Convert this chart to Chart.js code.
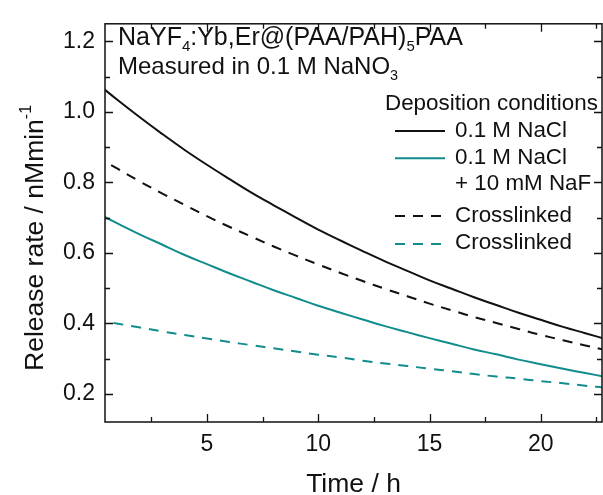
<!DOCTYPE html>
<html>
<head>
<meta charset="utf-8">
<script src="https://cdn.jsdelivr.net/npm/chart.js@4/dist/chart.umd.min.js"></script>
<style>
  html, body { margin: 0; padding: 0; background: #fff; }
  #wrap { width: 603px; height: 495px; }
</style>
</head>
<body>
<div id="wrap"><canvas id="myChart" width="603" height="495"></canvas></div>
<script>
  // time in hours
  const hours = [0, 1, 2, 3, 4, 5, 6, 7, 8, 9, 10, 11, 12, 13, 14, 15, 16, 17, 18, 19, 20, 21, 22, 23];
  // release rates (nM/min)
  const naclRate = [1.084, 1.033, 0.984, 0.937, 0.892, 0.850, 0.810, 0.771, 0.735, 0.700, 0.666, 0.635,
    0.605, 0.576, 0.549, 0.522, 0.498, 0.474, 0.452, 0.430, 0.410, 0.390, 0.372, 0.354];
  const nafRate = [0.715, 0.683, 0.652, 0.623, 0.594, 0.568, 0.542, 0.518, 0.494, 0.472, 0.450, 0.430,
    0.411, 0.392, 0.375, 0.358, 0.342, 0.326, 0.312, 0.297, 0.284, 0.271, 0.259, 0.247];
  const naclCrossRate = [0.875, 0.838, 0.802, 0.768, 0.736, 0.704, 0.674, 0.646, 0.618, 0.592, 0.567, 0.543,
    0.520, 0.498, 0.477, 0.456, 0.437, 0.418, 0.401, 0.384, 0.367, 0.352, 0.337, 0.323];
  const nafCrossRate = [0.410, 0.399, 0.388, 0.377, 0.367, 0.357, 0.347, 0.338, 0.329, 0.320, 0.311, 0.303,
    0.294, 0.286, 0.279, 0.271, 0.264, 0.256, 0.249, 0.243, 0.236, 0.230, 0.223, 0.217];

  const xTicks = [5, 10, 15, 20];
  const xMinor = [2.5, 7.5, 12.5, 17.5, 22.5];
  const yTicks = [0.2, 0.4, 0.6, 0.8, 1.0, 1.2];
  const yMinor = [0.3, 0.5, 0.7, 0.9, 1.1];
  const legendTitle = 'Deposition conditions';
  const seriesLabels = [['0.1 M NaCl'], ['0.1 M NaCl', '+ 10 mM NaF'], ['Crosslinked'], ['Crosslinked']];

  const black = '#111111';
  const teal = '#128c8c';
  const FONT = '"Liberation Sans", Arial, sans-serif';

  function pts(ys) {
    return hours.map((h, i) => ({ x: h, y: ys[i] }));
  }

  const chartData = {
    datasets: [
      { data: pts(naclRate), borderColor: black, borderWidth: 2, pointRadius: 0, tension: 0.4 },
      { data: pts(nafRate), borderColor: teal, borderWidth: 2, pointRadius: 0, tension: 0.4 },
      { data: pts(naclCrossRate), borderColor: black, borderWidth: 2, borderDash: [10, 8], pointRadius: 0, tension: 0.4 },
      { data: pts(nafCrossRate), borderColor: teal, borderWidth: 2, borderDash: [10, 8], pointRadius: 0, tension: 0.4 }
    ]
  };

  // text with sub/superscripts: parts = [[text, shift]] shift: 0 normal, 1 sub, -1 sup
  function richText(ctx, parts, x, y, size) {
    let cx = x;
    parts.forEach(p => {
      const small = p[1] !== 0;
      ctx.font = (small ? size * 0.6 : size) + 'px ' + FONT;
      const dy = p[1] === 1 ? size * 0.25 : (p[1] === -1 ? -size * 0.45 : 0);
      ctx.fillText(p[0], cx, y + dy);
      cx += ctx.measureText(p[0]).width;
    });
    return cx - x;
  }
  function richWidth(ctx, parts, size) {
    let w = 0;
    parts.forEach(p => {
      ctx.font = (p[1] !== 0 ? size * 0.6 : size) + 'px ' + FONT;
      w += ctx.measureText(p[0]).width;
    });
    return w;
  }

  const framePlugin = {
    id: 'frame',
    afterDraw(chart) {
      const ctx = chart.ctx;
      const a = chart.chartArea;
      const xs = chart.scales.x, ys = chart.scales.y;
      ctx.save();
      ctx.strokeStyle = black;
      ctx.lineWidth = 1.5;
      ctx.strokeRect(a.left, a.top, a.right - a.left, a.bottom - a.top);

      // inward ticks on all four sides
      ctx.lineWidth = 1.3;
      ctx.beginPath();
      const tickX = (v, len) => {
        const px = Math.round(xs.getPixelForValue(v)) + 0.5;
        ctx.moveTo(px, a.bottom); ctx.lineTo(px, a.bottom - len);
        ctx.moveTo(px, a.top); ctx.lineTo(px, a.top + len);
      };
      const tickY = (v, len) => {
        const py = Math.round(ys.getPixelForValue(v)) + 0.5;
        ctx.moveTo(a.left, py); ctx.lineTo(a.left + len, py);
        ctx.moveTo(a.right, py); ctx.lineTo(a.right - len, py);
      };
      xTicks.forEach(v => tickX(v, 8));
      xMinor.forEach(v => tickX(v, 5));
      yTicks.forEach(v => tickY(v, 8));
      yMinor.forEach(v => tickY(v, 5));
      ctx.stroke();

      ctx.fillStyle = black;
      ctx.textBaseline = 'alphabetic';
      ctx.textAlign = 'left';

      // annotation
      richText(ctx, [['NaYF', 0], ['4', 1], [':Yb,Er@(PAA/PAH)', 0], ['5', 1], ['PAA', 0]], 118, 45, 25);
      richText(ctx, [['Measured in 0.1 M NaNO', 0], ['3', 1]], 118, 74, 24);

      // legend
      ctx.font = '22.4px ' + FONT;
      ctx.fillText(legendTitle, 385, 110);
      const rows = [[136.7, 131], [164, 158.3], [221.7, 216], [249.3, 244]];
      chart.data.datasets.forEach((ds, i) => {
        const r = rows[i];
        ctx.strokeStyle = ds.borderColor;
        ctx.lineWidth = 2;
        ctx.setLineDash(ds.borderDash || []);
        ctx.beginPath();
        ctx.moveTo(395, r[1]); ctx.lineTo(445, r[1]);
        ctx.stroke();
        ctx.setLineDash([]);
        ctx.font = '22.4px ' + FONT;
        seriesLabels[i].forEach((t, k) => ctx.fillText(t, 455, r[0] + k * 26));
      });

      // y axis title
      const yTitle = [['Release rate / nMmin', 0], ['-1', -1]];
      const w = richWidth(ctx, yTitle, 26.5);
      ctx.save();
      ctx.translate(43, 238);
      ctx.rotate(-Math.PI / 2);
      richText(ctx, yTitle, -w / 2, 0, 26.5);
      ctx.restore();

      // x axis title
      ctx.font = '26.5px ' + FONT;
      ctx.textAlign = 'center';
      ctx.fillText('Time / h', (a.left + a.right) / 2, 492);
      ctx.restore();
    }
  };

  const chartConfig = {
    type: 'line',
    data: chartData,
    options: {
      responsive: false,
      animation: false,
      layout: { padding: { left: 0, right: 1, top: 15, bottom: 0 } },
      plugins: { legend: { display: false }, tooltip: { enabled: false } },
      scales: {
        x: {
          type: 'linear',
          min: 0.42,
          max: 22.75,
          afterBuildTicks: s => { s.ticks = xTicks.map(v => ({ value: v })); },
          afterFit: s => { s.height = 73; },
          grid: { display: false, drawTicks: false },
          border: { display: false },
          ticks: { color: black, font: { family: FONT, size: 23 }, padding: 9, maxRotation: 0 }
        },
        y: {
          min: 0.12,
          max: 1.25,
          afterBuildTicks: s => { s.ticks = yTicks.map(v => ({ value: v })); },
          afterFit: s => { s.width = 105; },
          grid: { display: false, drawTicks: false },
          border: { display: false },
          ticks: { color: black, font: { family: FONT, size: 23 }, padding: 10, callback: v => v.toFixed(1) }
        }
      }
    },
    plugins: [framePlugin]
  };

  const chartCanvas = document.getElementById('myChart');
  const myChart = new Chart(chartCanvas.getContext('2d'), chartConfig);
</script>
</body>
</html>
